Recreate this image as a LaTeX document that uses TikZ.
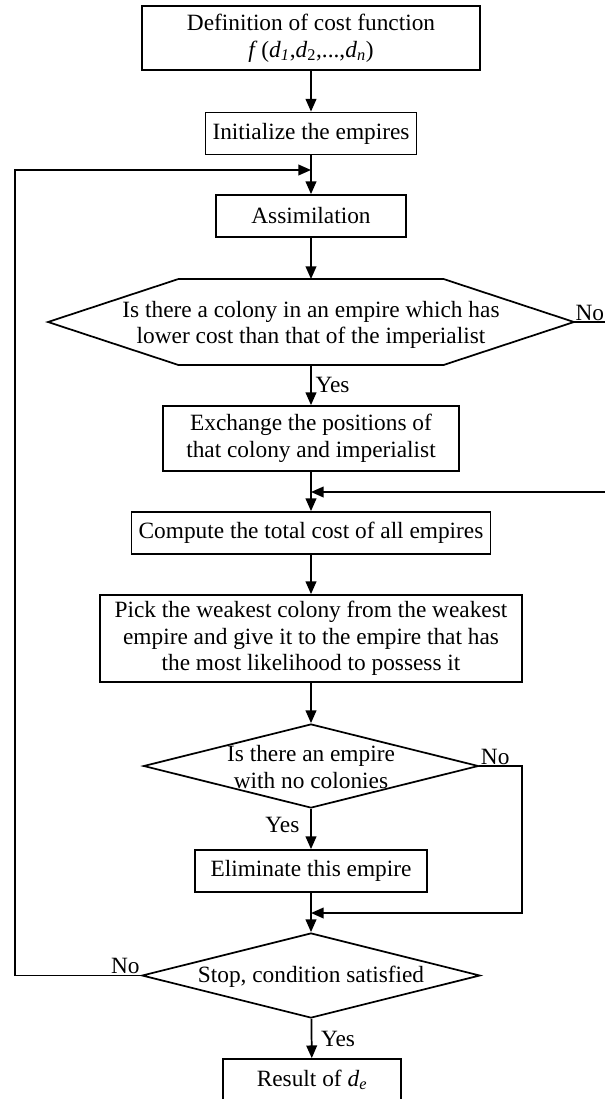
\documentclass[tikz,border=0pt]{standalone}
\usepackage{fontspec}
\setmainfont{Liberation Serif}
\usetikzlibrary{shapes.geometric, calc, arrows.meta}

% one pixel of the drawing
\newcommand{\pxu}{0.75pt}

\begin{document}
\begin{tikzpicture}[
    x=0.75pt, y=-0.75pt,
    box/.style={
        draw,
        line width=1.3pt,
        align=center,
        inner sep=0pt,
        minimum height=42*\pxu
    },
    decide/.style={
        draw,
        diamond,
        line width=1.3pt,
        inner sep=0pt
    },
    txt/.style={align=center, inner sep=0pt},
    lbl/.style={inner sep=1pt},
    arrow/.style={
        -{Triangle[length=9.5pt, width=8pt]},
        line width=1.3pt
    },
    font=\fontsize{17.5pt}{20pt}\selectfont
]

\useasboundingbox (0,0) rectangle (605,1099);

% boxes along the main line
\node[box, minimum width=338*\pxu, minimum height=64*\pxu] (def) at (311,38)
  {Definition of cost function\\
   \textit{f}\,(\textit{d}\textsubscript{\textit{1}},\textit{d}\textsubscript{2},...,\textit{d}\textsubscript{\textit{n}})};
\node[box, minimum width=211*\pxu] (init) at (311,133.5) {Initialize the empires};
\node[box, minimum width=190*\pxu] (assim) at (311,216) {Assimilation};

% first question, a six sided box
\node[txt] (q1) at (311,325) {Is there a colony in an empire which has\\lower cost than that of the imperialist};
\draw[line width=1.3pt] (311,322) ++(-263,0) -- ++(130.5,-43) -- ++(265,0) -- ++(130.5,43)
  -- ++(-130.5,43) -- ++(-265,0) -- cycle;
\coordinate (q1n) at (311,279);
\coordinate (q1s) at (311,365);
\coordinate (q1e) at (574,322);

\node[box, minimum width=296*\pxu, minimum height=65*\pxu] (swap) at (311,438.5)
  {Exchange the positions of\\that colony and imperialist};
\node[box, minimum width=359*\pxu] (total) at (311,533) {Compute the total cost of all empires};
\node[box, minimum width=422*\pxu, minimum height=87*\pxu] (pick) at (311,638.5)
  {Pick the weakest colony from the weakest\\empire and give it to the empire that has\\the most likelihood to possess it};

% second question
\node[decide, minimum width=335*\pxu, minimum height=84*\pxu] (q2) at (311,766) {};
\node[txt] (q2t) at (311,767) {Is there an empire\\with no colonies};

\node[box, minimum width=232*\pxu] (elim) at (311,871) {Eliminate this empire};

% stop test
\node[decide, minimum width=338*\pxu, minimum height=85*\pxu] (q3) at (311,975.5) {};
\node[txt] (q3t) at (311,977) {Stop, condition satisfied};

\node[box, minimum width=178*\pxu] (result) at (312,1080) {Result of \textit{d}\textsubscript{\textit{e}}};

% joints of the loops
\coordinate (j1) at (311,170);
\coordinate (lft) at (15,170);
\coordinate (j2) at (311,492);
\coordinate (rgt1) at (607,492);
\coordinate (j3) at (311,913);
\coordinate (rgt2) at (522,913);

% arrows
\draw[arrow] (def) -- (init);
\draw[arrow] (init) -- (assim);
\draw[arrow] (assim) -- (q1n);
\draw[arrow] (q1s) -- (swap);
\draw[arrow] (swap) -- (total);
\draw[arrow] (total) -- (pick);
\draw[arrow] (pick) -- (q2);
\draw[arrow] (q2) -- (elim);
\draw[arrow] (elim) -- (q3);
\draw[arrow] (q3) -- (result);

\draw[arrow] (q3.west) -| (lft) -- (j1);
\draw[arrow] (q1e) -| (rgt1) -- (j2);
\draw[arrow] (q2.east) -| (rgt2) -- (j3);

% yes / no
\node[lbl, anchor=west] (yes1) at ($(q1s)!0.5!(swap.north)+(3,0)$) {Yes};
\node[lbl, anchor=south west] (no1) at (q1e) {No};
\node[lbl, anchor=east, yshift=3pt] (yes2) at ($(q2.south)!0.5!(elim.north)+(-10,0)$) {Yes};
\node[lbl, anchor=south west] (no2) at (q2.east) {No};
\node[lbl, anchor=west] (yes3) at ($(q3.south)!0.5!(result.north)+(8,0)$) {Yes};
\node[lbl, anchor=south east] (no3) at (q3.west) {No};

\end{tikzpicture}
\end{document}
